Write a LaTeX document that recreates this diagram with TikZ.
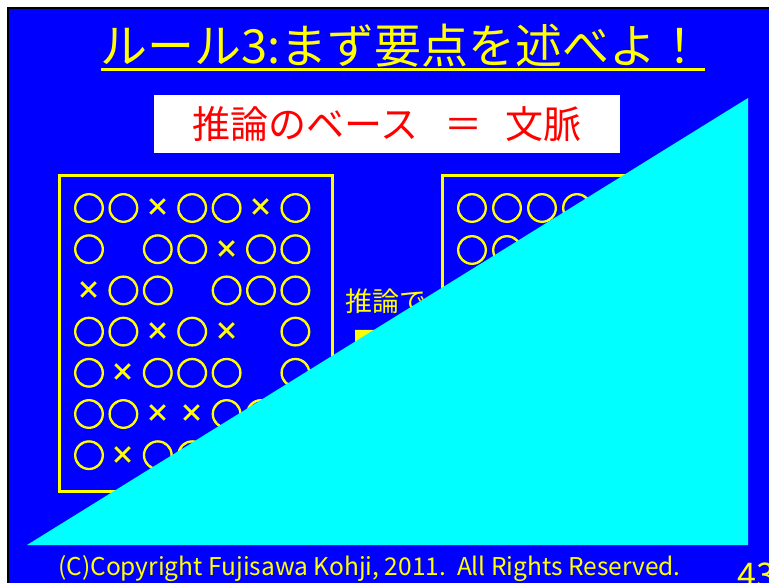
\documentclass[tikz,border=0pt]{standalone}
\usepackage{fontspec}
\setmainfont{Noto Sans CJK JP}
\newfontfamily\symfont{Noto Sans CJK JP}[FakeBold=3.5]
\usetikzlibrary{positioning,shapes.arrows}
\definecolor{slideblue}{RGB}{0,0,255}
\definecolor{slideyellow}{RGB}{255,255,0}
\definecolor{slidered}{RGB}{255,0,0}
\definecolor{slidecyan}{RGB}{0,255,255}
\begin{document}
\begin{tikzpicture}[x=1pt,y=-1pt,
		sym/.style={text=slideyellow,font=\fontsize{32}{32}\selectfont\symfont,inner sep=0pt},
		cell o/.style={sym,node contents={○}},
		cell x/.style={sym,font=\fontsize{25}{25}\selectfont\bfseries,node contents={×}},
		cell -/.style={sym,node contents={}},
		frame/.style={draw=slideyellow,line width=3pt,minimum width=273.5,minimum height=316.5},
		uline/.style={slideyellow,line width=3pt}]
		\clip (0,0) rectangle (769,582);
		\fill[white] (0,0) rectangle (769,582);
		\filldraw[fill=slideblue,draw=black,line width=2.5pt] (8,8) rectangle (800,600);
		\node[text=slideyellow,font=\fontsize{47}{47}\selectfont,inner xsep=0pt](title) at (402,46) {ルール3:まず要点を述べよ！};
		\draw[uline] (101,69) -- (705,69);
		\node[fill=white,text=slidered,font=\fontsize{38}{38}\selectfont,minimum width=466,minimum height=58](base) at (387,124) {推論のベース\hspace{0.7em}＝\hspace{0.6em}文脈};
		\node[frame](left) at (195.75,333.25) {};
		\node[frame](right) at (578.75,333.25) {};
		\foreach \row [count=\r] in {{o,o,x,o,o,x,o},{o,-,o,o,x,o,o},{x,o,o,-,o,o,o},{o,o,x,o,x,-,o},{o,x,o,o,o,-,o},{o,o,x,x,o,o},{o,x,o,o}}
			\foreach \s [count=\c] in \row
				\node[name=L\r\c,at={({89+34.4*(\c-1)},{208+41.2*(\r-1)})},cell \s];
		\foreach \row [count=\r] in {{o,o,o,o},{o,o}}
			\foreach \s [count=\c] in \row
				\node[name=R\r\c,at={({472+35*(\c-1)},{208+42*(\r-1)})},cell \s];
		\node[text=slideyellow,font=\fontsize{27}{27}\selectfont,anchor=west,inner sep=0pt](infer) at (345,301) {推論で};
		\node[single arrow,fill=slideyellow,anchor=tail,inner sep=8pt,minimum height=80,single arrow head extend=8pt](arrow) at (355,338) {};
		\fill[slidecyan] (27,545) -- (748,545) -- (748,98) -- cycle;
		\node[text=slideyellow,font=\fontsize{24.5}{24.5}\selectfont,anchor=west,inner sep=0pt](copy) at (58,569) {(C)Copyright Fujisawa Kohji, 2011.\ \ All Rights Reserved.};
		\node[text=slideyellow,font=\fontsize{34}{34}\selectfont,anchor=west,inner sep=0pt](page) at (737,575) {43};
\end{tikzpicture}
\end{document}
